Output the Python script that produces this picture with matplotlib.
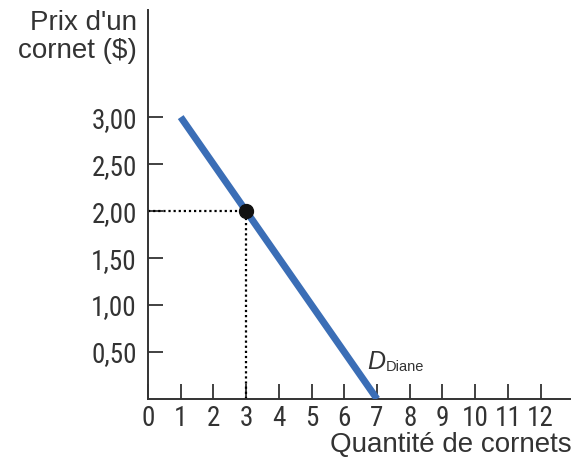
import matplotlib

matplotlib.use("Agg")
import matplotlib.pyplot as plt

# demand curve of Diane and the highlighted point
demand_qty = [1, 7]
demand_price = [3.0, 0.0]
point_qty = 3
point_price = 2.0

x_ticks = list(range(0, 13))
y_ticks = [0.5, 1.0, 1.5, 2.0, 2.5, 3.0]
y_tick_labels = ["0,50", "1,00", "1,50", "2,00", "2,50", "3,00"]

BLUE = "#3b6eb6"
AXIS = "#333333"
TEXT = "#333333"
NARROW = ["Roboto Condensed", "Archivo Narrow", "DejaVu Sans"]
SANS = ["Liberation Sans", "DejaVu Sans"]

fig = plt.figure(figsize=(5.74, 4.74), dpi=100)
fig.patch.set_facecolor("white")
ax = fig.add_axes([148 / 574, 1 - 399 / 474, (570 - 148) / 574, (399 - 10) / 474])
ax.set_xlim(0, 12.9)
ax.set_ylim(0, 4.14)

ax.plot(demand_qty, demand_price, color=BLUE, linewidth=5, solid_capstyle="butt", zorder=3)
ax.plot([0, point_qty], [point_price, point_price], color="black",
        linestyle=(0, (1, 1.3)), linewidth=1.6, zorder=2)
ax.plot([point_qty, point_qty], [0, point_price], color="black",
        linestyle=(0, (1, 1.3)), linewidth=1.6, zorder=2)
ax.plot([point_qty], [point_price], "o", color="#111111", markersize=10, zorder=4)

ax.set_xticks(x_ticks)
ax.set_xticklabels([str(v) for v in x_ticks])
ax.set_yticks(y_ticks)
ax.set_yticklabels(y_tick_labels)
for lab in ax.get_xticklabels() + ax.get_yticklabels():
    lab.set_family(NARROW)
    lab.set_fontsize(19.5)
    lab.set_color(TEXT)
ax.tick_params(axis="both", direction="in", length=10.5, width=1.3, color=AXIS)
ax.tick_params(axis="x", pad=4)
ax.tick_params(axis="y", pad=8)

for side in ("top", "right"):
    ax.spines[side].set_visible(False)
for side in ("left", "bottom"):
    ax.spines[side].set_color(AXIS)
    ax.spines[side].set_linewidth(1.4)

ax.text(6.7, 0.32, "D", family=SANS, fontsize=18, style="italic", color=TEXT)
ax.text(7.28, 0.30, "Diane", family=SANS, fontsize=10.5, color=TEXT)

fig.text(137 / 574, 1 - 10 / 474, "Prix d'un\ncornet ($)", ha="right", va="top",
         family=SANS, fontsize=20, color=TEXT, linespacing=1.12)
fig.text(572 / 574, 1 - 452 / 474, "Quantité de cornets", ha="right", va="baseline",
         family=SANS, fontsize=20, color=TEXT)

fig.savefig("out.png", dpi=100, facecolor=fig.get_facecolor())
plt.close(fig)
